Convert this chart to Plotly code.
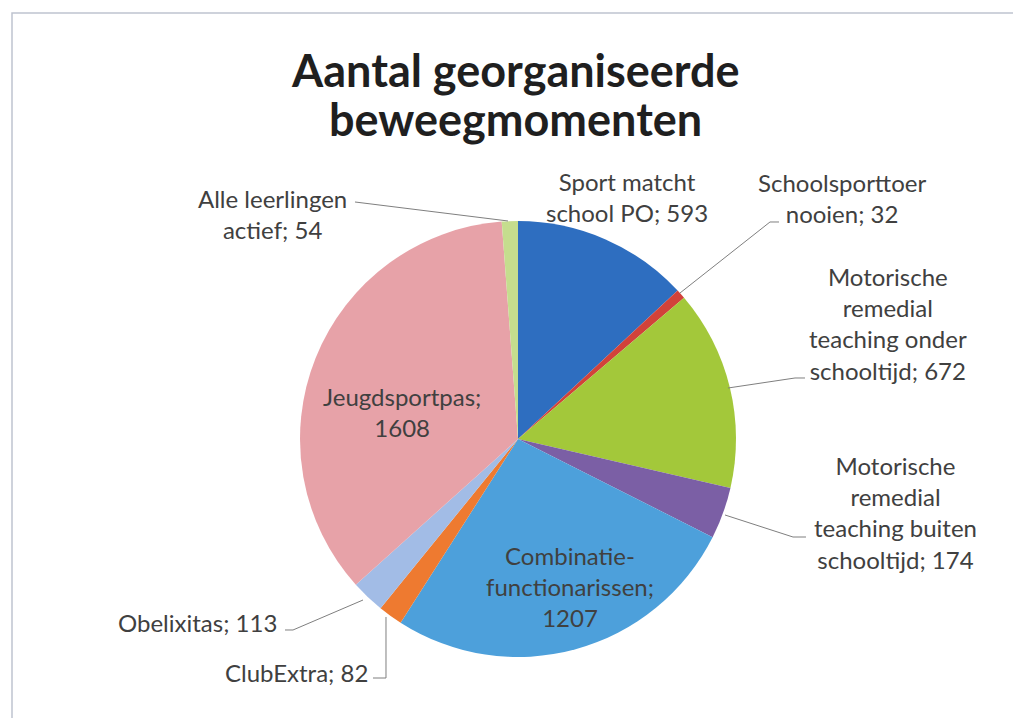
import plotly.graph_objects as go

# ---- data ----
categories = [
    "Sport matcht school PO",
    "Schoolsporttoer nooien",
    "Motorische remedial teaching onder schooltijd",
    "Motorische remedial teaching buiten schooltijd",
    "Combinatie-functionarissen",
    "ClubExtra",
    "Obelixitas",
    "Jeugdsportpas",
    "Alle leerlingen actief",
]
values = [593, 32, 672, 174, 1207, 82, 113, 1608, 54]
label_lines = [
    ["Sport matcht", "school PO; {v}"],
    ["Schoolsporttoer", "nooien; {v}"],
    ["Motorische", "remedial", "teaching onder", "schooltijd; {v}"],
    ["Motorische", "remedial", "teaching buiten", "schooltijd; {v}"],
    ["Combinatie-", "functionarissen;", "{v}"],
    ["ClubExtra; {v}"],
    ["Obelixitas; {v}"],
    ["Jeugdsportpas;", "{v}"],
    ["Alle leerlingen", "actief; {v}"],
]
title_lines = ["Aantal georganiseerde", "beweegmomenten"]

colors = ["#2E6EC0", "#D2423A", "#A3C83A", "#7B5FA5", "#4DA0DB",
          "#EE7A30", "#A2BCE6", "#E7A2A8", "#C5DD8E"]

W, H = 1013, 718

def px(x):
    return x / W

def py(y):
    return 1 - y / H

# pie geometry (pixels)
cx, cy, r = 518, 439, 218

fig = go.Figure(go.Pie(
    labels=categories,
    values=values,
    sort=False,
    direction="clockwise",
    rotation=0,
    marker=dict(colors=colors, line=dict(width=0)),
    textinfo="none",
    hoverinfo="label+value",
    domain=dict(x=[px(cx - r), px(cx + r)], y=[py(cy + r), py(cy - r)]),
    showlegend=False,
))

# label placement (pixel centres)
label_pos = [
    (627, 197), (842, 198), (888, 323), (895, 512), (570, 586),
    (296, 672), (197, 622), (402, 412), (272, 214),
]

annotations = []
for lines, v, (x, y) in zip(label_lines, values, label_pos):
    txt = "<br>".join(l.format(v=v) for l in lines)
    annotations.append(dict(
        x=px(x), y=py(y), xref="paper", yref="paper", text=txt,
        showarrow=False, xanchor="center", yanchor="middle", align="center",
        font=dict(family="Lato", size=24, color="#404040"),
    ))

# title as two annotation lines
for t, y in zip(title_lines, [70, 119]):
    annotations.append(dict(
        x=px(515), y=py(y), xref="paper", yref="paper", text="<b>%s</b>" % t,
        showarrow=False, xanchor="center", yanchor="middle",
        font=dict(family="Lato", size=45, color="#1F1F1F"),
    ))

# leader lines (pixel polylines)
leaders = [
    [(355, 202), (508, 221)],
    [(779, 222), (770, 222), (680, 293)],
    [(805, 378), (795, 378), (728, 388)],
    [(725, 515), (793, 537), (806, 537)],
    [(285, 630), (293, 630), (363, 600)],
    [(373, 678), (386, 678), (386, 617)],
]
shapes = []
for pts in leaders:
    path = "M " + " L ".join("%f,%f" % (px(a), py(b)) for a, b in pts)
    shapes.append(dict(type="path", path=path, xref="paper", yref="paper",
                       line=dict(color="#7F7F7F", width=1)))

# chart frame
shapes.append(dict(type="rect", xref="paper", yref="paper",
                   x0=px(12), x1=px(1030), y0=py(740), y1=py(13),
                   line=dict(color="#BFC3CF", width=1.5)))

fig.update_layout(
    width=W, height=H,
    margin=dict(l=0, r=0, t=0, b=0),
    paper_bgcolor="white", plot_bgcolor="white",
    annotations=annotations, shapes=shapes,
)

fig.write_html("out.html",
               config={"displayModeBar": False},
               post_script="document.body.style.margin='0';document.body.style.overflow='hidden';")
